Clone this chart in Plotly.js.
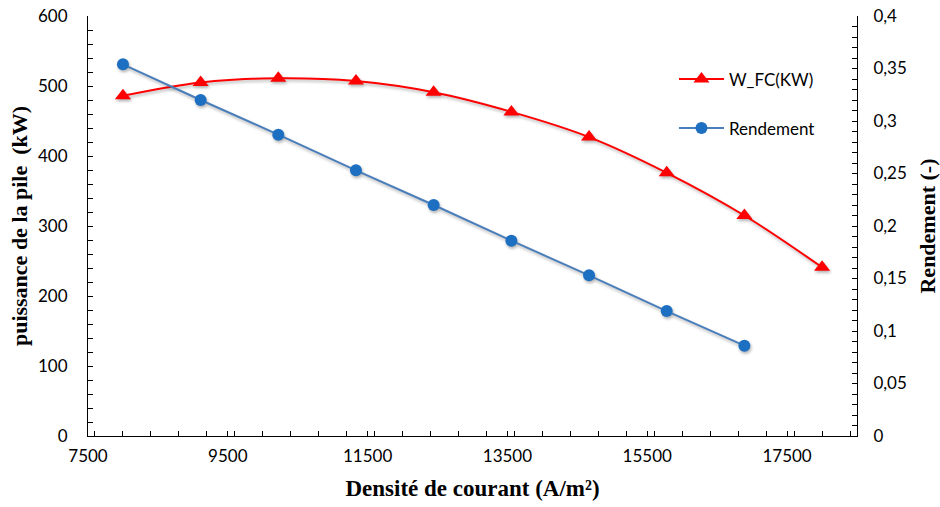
<!DOCTYPE html>
<html>
<head>
<meta charset="utf-8">
<script src="https://cdn.plot.ly/plotly-3.0.1.min.js"></script>
<style>
  html, body { margin: 0; padding: 0; background: #fff; }
  #chart { width: 940px; height: 507px; }
  /* soft drop shadow under the series, like the spreadsheet styling */
  .scatterlayer .trace { filter: drop-shadow(1px 2px 1.5px rgba(0,0,0,0.30)); }
</style>
</head>
<body>
<div id="chart"></div>
<script>
// Current density (A/m²)
const currentDensity = [8000, 9111, 10222, 11333, 12444, 13556, 14667, 15778, 16889, 18000];
// Stack power W_FC (kW)
const powerKW = [486, 505, 511, 507, 491, 463, 427, 376, 315, 241];
// Efficiency (-), one fewer point than the power series
const efficiency = [0.354, 0.320, 0.287, 0.253, 0.220, 0.186, 0.153, 0.119, 0.086];

const xTitle = 'Densité de courant (A/m²)';
const yTitle = 'puissance de la pile  (kW)';
const y2Title = 'Rendement (-)';

const tickFont = { family: 'Lato, "Open Sans", sans-serif', size: 17, color: '#000' };
const serif = '"Liberation Serif", "Times New Roman", serif';
const titleFontX = { family: serif, size: 23, color: '#000', weight: 'bold' };
const titleFontY = { family: serif, size: 22, color: '#000', weight: 'bold' };

const traces = [
  {
    x: currentDensity,
    y: powerKW,
    name: 'W_FC(KW)',
    type: 'scatter',
    mode: 'lines+markers',
    line: { color: '#ff0000', width: 2, shape: 'spline', smoothing: 1 },
    marker: { symbol: 'triangle-up', size: 14, color: '#ff0000' },
    legendgroup: 'a',
    yaxis: 'y'
  },
  {
    x: currentDensity.slice(0, efficiency.length),
    y: efficiency,
    name: 'Rendement',
    type: 'scatter',
    mode: 'lines+markers',
    line: { color: '#4a7ebb', width: 2 },
    marker: { symbol: 'circle', size: 12, color: '#1d6fc2' },
    legendgroup: 'b',
    yaxis: 'y2'
  }
];

const axisCommon = {
  showline: true, linecolor: '#000', linewidth: 1,
  ticks: 'inside', ticklen: 5, tickcolor: '#000', tickwidth: 1,
  showgrid: false, zeroline: false,
  tickfont: tickFont
};

const layout = {
  width: 940, height: 507,
  margin: { l: 88, r: 83, t: 16, b: 71 },
  paper_bgcolor: '#fff', plot_bgcolor: '#fff',
  separators: ', ',
  showlegend: true,
  legend: {
    x: 0.762, y: 0.892, xanchor: 'left', yanchor: 'top',
    font: tickFont,
    bgcolor: 'rgba(0,0,0,0)',
    traceorder: 'grouped', tracegroupgap: 24,
    itemwidth: 45
  },
  xaxis: Object.assign({}, axisCommon, {
    range: [7500, 18500], tick0: 7500, dtick: 2000, tickformat: 'd',
    minor: { dtick: 400, ticks: 'inside', ticklen: 5, tickcolor: '#000' },
    ticklabelstandoff: 5,
    title: { text: xTitle, font: titleFontX, standoff: 14 }
  }),
  yaxis: Object.assign({}, axisCommon, {
    range: [0, 600], dtick: 100,
    minor: { dtick: 20, ticks: 'inside', ticklen: 5, tickcolor: '#000' },
    ticklabelstandoff: 16,
    title: { text: yTitle, font: titleFontY, standoff: 4 }
  }),
  yaxis2: Object.assign({}, axisCommon, {
    range: [0, 0.4], dtick: 0.05,
    overlaying: 'y', side: 'right',
    minor: { dtick: 0.01, ticks: 'inside', ticklen: 5, tickcolor: '#000' },
    ticklabelstandoff: 12,
    title: { text: y2Title, font: titleFontY, standoff: 16 }
  })
};

Plotly.newPlot('chart', traces, layout, { displayModeBar: false, staticPlot: true });
</script>
</body>
</html>
